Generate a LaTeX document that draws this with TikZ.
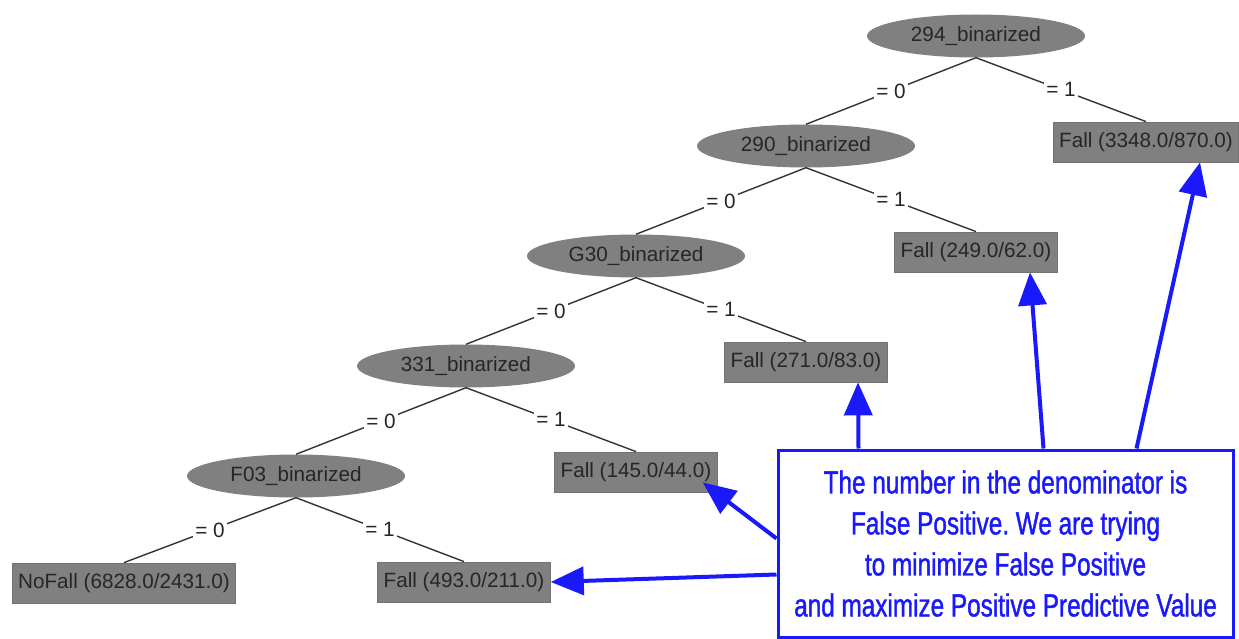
\documentclass[tikz,border=0pt]{standalone}
\usepackage{fontspec}
\setmainfont{Liberation Sans}
\newfontfamily\notefont[FakeStretch=0.76,FakeBold=1.2]{Liberation Sans}
\usetikzlibrary{arrows.meta,shapes.geometric}
\definecolor{nodegray}{RGB}{128,128,128}
\definecolor{notblue}{RGB}{25,25,250}
\tikzset{
  attr/.style={ellipse,fill=nodegray,text=black!85,minimum width=218pt,minimum height=43pt,inner sep=0pt,font=\fontsize{20.7}{24}\selectfont},
  leaf/.style={rectangle,fill=nodegray,draw=black!55,line width=0.8pt,text=black!85,minimum height=40pt,inner xsep=6pt,font=\fontsize{20.7}{24}\selectfont},
  edge/.style={draw=black!80,line width=1.4pt},
  elabel/.style={fill=white,inner sep=2pt,text=black!85,font=\fontsize{20.7}{24}\selectfont},
  notebox/.style={rectangle,draw=notblue,line width=3pt,text=notblue,minimum width=455pt,minimum height=187pt,align=center,font=\notefont\fontsize{32}{41}\selectfont},
  notearrow/.style={draw=notblue,line width=4pt,-{Triangle[length=33pt,width=28pt]}}
}
\begin{document}
\begin{tikzpicture}[x=1pt,y=-1pt]
  \useasboundingbox (0,0) rectangle (1239,639);
  % attribute tests
  \node[attr] (n294) at (976,36) {294\_binarized};
  \node[attr] (n290) at (806,146) {290\_binarized};
  \node[attr] (nG30) at (636,256) {G30\_binarized};
  \node[attr] (n331) at (466,366) {331\_binarized};
  \node[attr] (nF03) at (296,476) {F03\_binarized};
  % leaves
  \node[leaf] (l3348) at (1146,142) {Fall (3348.0/870.0)};
  \node[leaf] (l249) at (976,252) {Fall (249.0/62.0)};
  \node[leaf] (l271) at (806,362) {Fall (271.0/83.0)};
  \node[leaf] (l145) at (636,472) {Fall (145.0/44.0)};
  \node[leaf] (l493) at (464,582) {Fall (493.0/211.0)};
  \node[leaf] (l6828) at (124,583) {NoFall (6828.0/2431.0)};
  % branches
  \draw[edge] (n294.south) -- node[elabel] {= 0} (n290.north);
  \draw[edge] (n294.south) -- node[elabel] {= 1} (l3348.north);
  \draw[edge] (n290.south) -- node[elabel] {= 0} (nG30.north);
  \draw[edge] (n290.south) -- node[elabel] {= 1} (l249.north);
  \draw[edge] (nG30.south) -- node[elabel] {= 0} (n331.north);
  \draw[edge] (nG30.south) -- node[elabel] {= 1} (l271.north);
  \draw[edge] (n331.south) -- node[elabel] {= 0} (nF03.north);
  \draw[edge] (n331.south) -- node[elabel] {= 1} (l145.north);
  \draw[edge] (nF03.south) -- node[elabel] {= 0} (l6828.north);
  \draw[edge] (nF03.south) -- node[elabel] {= 1} (l493.north);
  % note
  \node[notebox] (note) at (1005.5,543.5) {The number in the denominator is\\False Positive.\ We are trying\\to minimize False Positive\\and maximize Positive Predictive Value};
  \draw[notearrow] ([xshift=82pt]note.north west) -- ([xshift=52pt]l271.south);
  \draw[notearrow] ([xshift=267pt]note.north west) -- ([xshift=54pt]l249.south);
  \draw[notearrow] ([xshift=360pt]note.north west) -- ([xshift=54pt]l3348.south);
  \draw[notearrow] ([shift={(0,-5)}]note.west) -- ([shift={(-15,-10)}]l145.south east);
  \draw[notearrow] ([shift={(0,31)}]note.west) -- (l493.east);
\end{tikzpicture}
\end{document}
